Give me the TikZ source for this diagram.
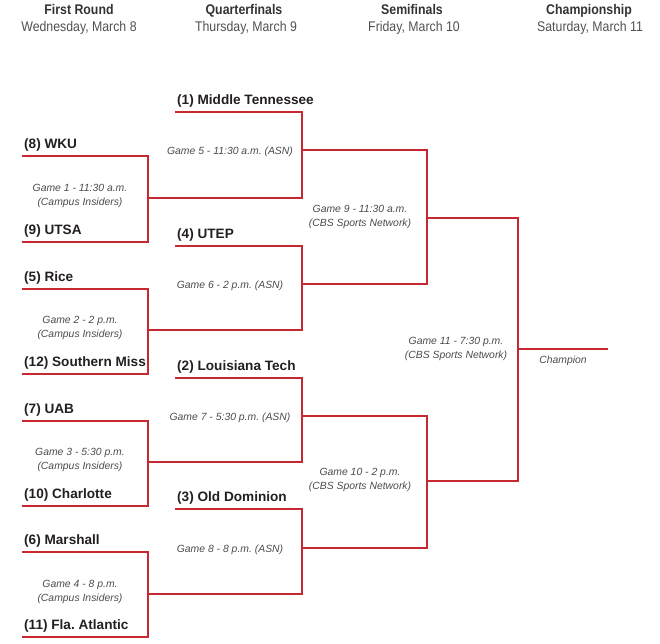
\documentclass[tikz,border=0pt]{standalone}
\usepackage{fontspec}
\setmainfont{Liberation Sans}
\newfontfamily\hdfont{Liberation Sans}[FakeStretch=0.88]
\definecolor{brk}{RGB}{200,40,50}
\definecolor{teamc}{RGB}{35,31,32}
\definecolor{hdc}{RGB}{51,51,51}
\definecolor{hdr}{RGB}{80,80,80}
\definecolor{gamec}{RGB}{75,75,75}
\frenchspacing
\begin{document}
\begin{tikzpicture}[x=1pt,y=-1pt,
  brline/.style={draw=brk,line width=1.8pt,line join=miter},
  team/.style={anchor=base west,inner sep=0,font=\bfseries\fontsize{13.6}{16}\selectfont,text=teamc},
  gamelbl/.style={align=center,inner sep=0,font=\itshape\fontsize{10.4}{13.5}\selectfont,text=gamec},
  qflbl/.style={gamelbl,anchor=base},
  hdbold/.style={anchor=base,inner sep=0,font=\hdfont\bfseries\fontsize{14}{16}\selectfont,text=hdc},
  hdreg/.style={anchor=base,inner sep=0,font=\hdfont\fontsize{14}{16}\selectfont,text=hdr}]
\useasboundingbox (0,0) rectangle (660,643);

% headers
\node[hdbold] (h1) at (79,14) {First Round};
\node[hdreg]  (d1) at (79,31) {Wednesday, March 8};
\node[hdbold] (h2) at (244,14) {Quarterfinals};
\node[hdreg]  (d2) at (246,31) {Thursday, March 9};
\node[hdbold] (h3) at (412,14) {Semifinals};
\node[hdreg]  (d3) at (414,31) {Friday, March 10};
\node[hdbold] (h4) at (589,14) {Championship};
\node[hdreg]  (d4) at (590,31) {Saturday, March 11};

% teams: name / left x / right x / line y / label
\foreach \n/\xa/\xb/\y/\t in {
  wku/22/148/156/{(8) WKU},
  utsa/22/148/242/{(9) UTSA},
  rice/22/148/289/{(5) Rice},
  usm/22/148/374/{(12) Southern Miss},
  uab/22/148/421/{(7) UAB},
  clt/22/148/506/{(10) Charlotte},
  mar/22/148/552/{(6) Marshall},
  fau/22/148/637/{(11) Fla. Atlantic},
  mt/175/302/112/{(1) Middle Tennessee},
  utep/175/302/246/{(4) UTEP},
  lt/175/302/378/{(2) Louisiana Tech},
  odu/175/302/509/{(3) Old Dominion}}{
  \coordinate (\n A) at (\xa,\y);
  \coordinate (\n B) at (\xb,\y);
  \node[team] (\n) at (\xa+2,\y-8) {\t};
}

% game output points
\coordinate (g1) at (148,198);  \coordinate (g1e) at (302,198);
\coordinate (g2) at (148,330);  \coordinate (g2e) at (302,330);
\coordinate (g3) at (148,462);  \coordinate (g3e) at (302,462);
\coordinate (g4) at (148,594);  \coordinate (g4e) at (302,594);
\coordinate (g5) at (302,150);  \coordinate (g5e) at (427,150);
\coordinate (g6) at (302,284);  \coordinate (g6e) at (427,284);
\coordinate (g7) at (302,416);  \coordinate (g7e) at (427,416);
\coordinate (g8) at (302,548);  \coordinate (g8e) at (427,548);
\coordinate (g9) at (427,218);  \coordinate (g9e) at (518,218);
\coordinate (g10) at (427,481); \coordinate (g10e) at (518,481);
\coordinate (g11) at (518,349); \coordinate (champ) at (608,349);

% first round brackets
\draw[brline] (wkuA) -- (wkuB) -- (utsaB) -- (utsaA);
\draw[brline] (riceA) -- (riceB) -- (usmB) -- (usmA);
\draw[brline] (uabA) -- (uabB) -- (cltB) -- (cltA);
\draw[brline] (marA) -- (marB) -- (fauB) -- (fauA);
% quarterfinal brackets
\draw[brline] (mtA) -- (mtB) -- (g1e) -- (g1);
\draw[brline] (utepA) -- (utepB) -- (g2e) -- (g2);
\draw[brline] (ltA) -- (ltB) -- (g3e) -- (g3);
\draw[brline] (oduA) -- (oduB) -- (g4e) -- (g4);
% semifinal brackets
\draw[brline] (g5) -- (g5e) -- (g6e) -- (g6);
\draw[brline] (g7) -- (g7e) -- (g8e) -- (g8);
% final
\draw[brline] (g9) -- (g9e) -- (g10e) -- (g10);
\draw[brline] (g11) -- (champ);

% game labels
\node[gamelbl] (l1) at (80,196) {Game 1 - 11:30 a.m.\\(Campus Insiders)};
\node[gamelbl] (l2) at (80,328) {Game 2 - 2 p.m.\\(Campus Insiders)};
\node[gamelbl] (l3) at (80,460) {Game 3 - 5:30 p.m.\\(Campus Insiders)};
\node[gamelbl] (l4) at (80,592) {Game 4 - 8 p.m.\\(Campus Insiders)};
\node[qflbl] (l5) at (230,154.5) {Game 5 - 11:30 a.m. (ASN)};
\node[qflbl] (l6) at (230,288.5) {Game 6 - 2 p.m. (ASN)};
\node[qflbl] (l7) at (230,420.5) {Game 7 - 5:30 p.m. (ASN)};
\node[qflbl] (l8) at (230,552.5) {Game 8 - 8 p.m. (ASN)};
\node[gamelbl] (l9) at (360,217) {Game 9 - 11:30 a.m.\\(CBS Sports Network)};
\node[gamelbl] (l10) at (360,480) {Game 10 - 2 p.m.\\(CBS Sports Network)};
\node[gamelbl] (l11) at (456,349) {Game 11 - 7:30 p.m.\\(CBS Sports Network)};
\node[qflbl] (lc) at (563,363) {Champion};
\end{tikzpicture}
\end{document}
